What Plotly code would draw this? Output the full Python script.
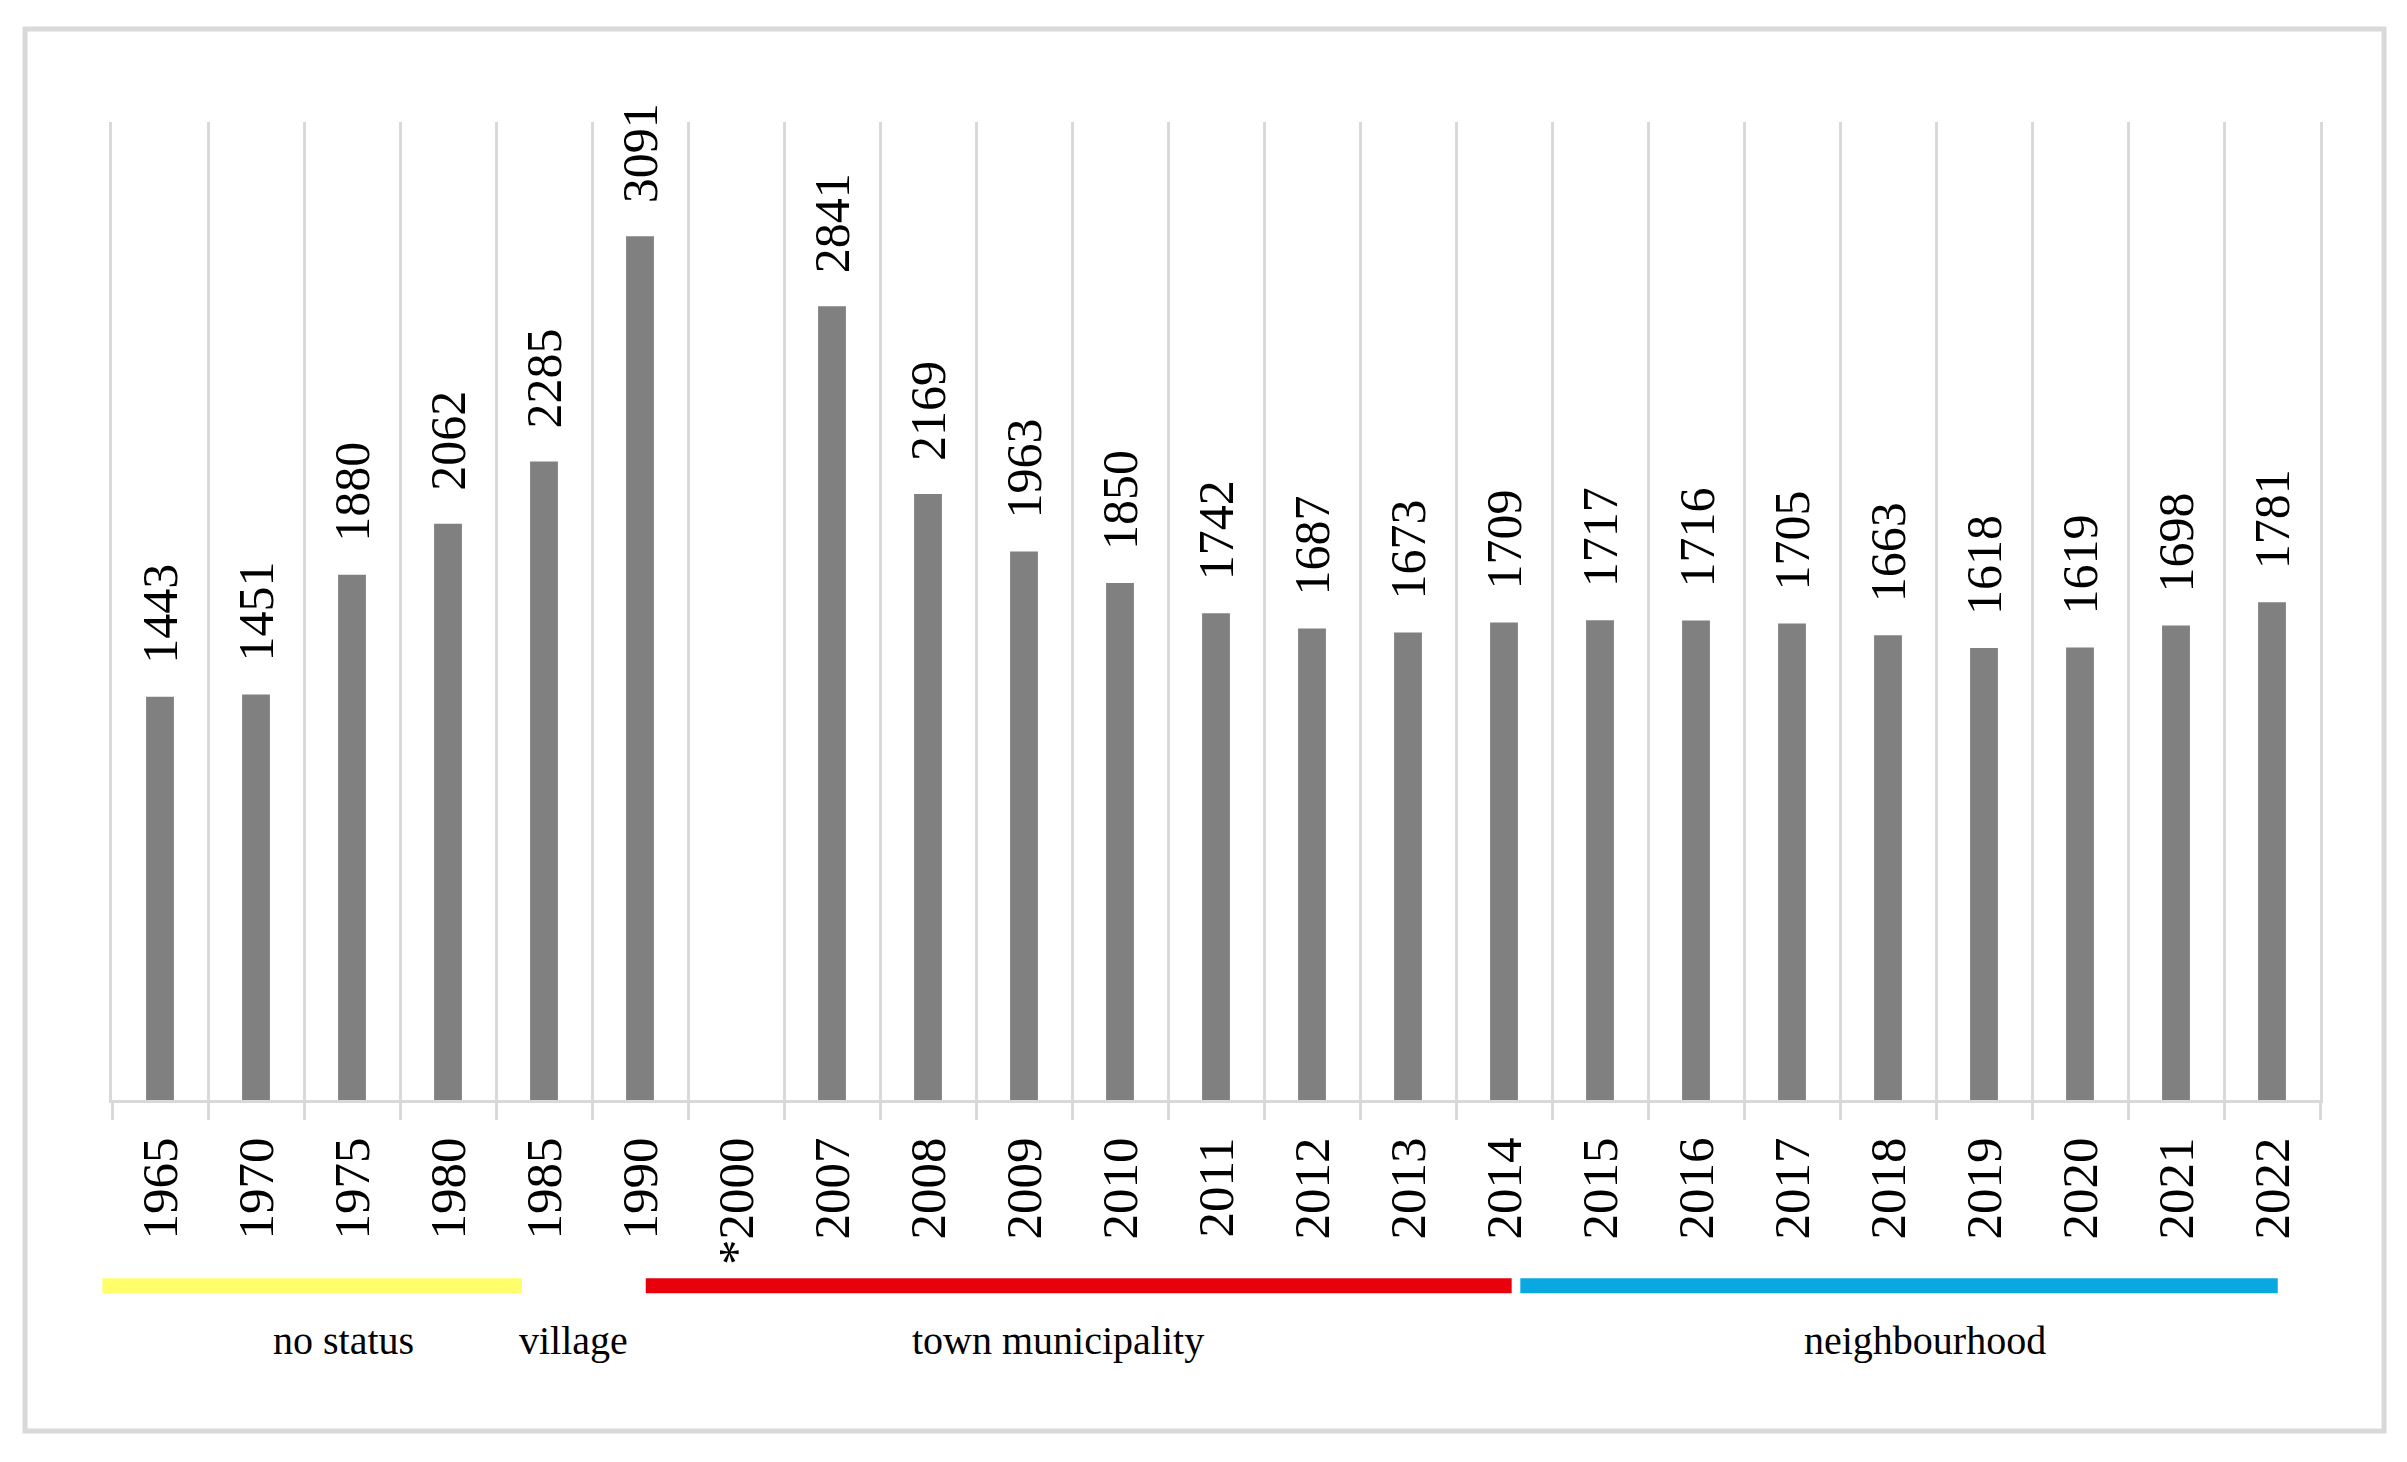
import plotly.graph_objects as go

# ---- data ----
years = ["1965", "1970", "1975", "1980", "1985", "1990", "*2000", "2007", "2008",
         "2009", "2010", "2011", "2012", "2013", "2014", "2015", "2016", "2017",
         "2018", "2019", "2020", "2021", "2022"]
population = [1443, 1451, 1880, 2062, 2285, 3091, None, 2841, 2169,
              1963, 1850, 1742, 1687, 1673, 1709, 1717, 1716, 1705,
              1663, 1618, 1619, 1698, 1781]

status_names = ["no status", "village", "town municipality", "neighbourhood"]
status_colors = ["#FFFF6B", None, "#E8000B", "#0AA8E0"]

# ---- layout helpers (positions in category-index units / paper units) ----
status_bar_span = [(-0.60, 3.77), None, (5.06, 14.08), (14.17, 22.06)]
status_label_x = [1.91, 4.31, 9.35, 18.39]

FONT = "Liberation Serif, Times New Roman, serif"
GRID = "#d9d9d9"
N = len(years)


def idx_to_paper(v):
    # category-index position -> paper fraction of the x domain (range -0.5..N-0.5)
    return (v + 0.5) / N


fig = go.Figure()
fig.add_trace(go.Bar(
    x=years, y=population,
    marker=dict(color="#808080", line=dict(width=0)),
    hoverinfo="x+y",
))

annotations = []
for i, val in enumerate(population):
    if val is None:
        continue
    annotations.append(dict(
        x=i, y=val, xref="x", yref="y", text=str(val), showarrow=False,
        textangle=-90, yanchor="bottom", xanchor="center", yshift=31,
        font=dict(family=FONT, size=50, color="#000000"),
    ))

shapes = []
# outer frame
shapes.append(dict(type="rect", xref="paper", yref="paper",
                   x0=-0.0394, x1=1.029, y0=-0.3384, y1=1.095,
                   line=dict(color=GRID, width=5), fillcolor="rgba(0,0,0,0)",
                   layer="below"))
bar_y, half = -0.190, 0.0077
for span, col in zip(status_bar_span, status_colors):
    if span is None:
        continue
    shapes.append(dict(type="rect", xref="paper", yref="paper",
                       x0=idx_to_paper(span[0]), x1=idx_to_paper(span[1]),
                       y0=bar_y - half, y1=bar_y + half,
                       line=dict(width=0), fillcolor=col))
for name, lx in zip(status_names, status_label_x):
    annotations.append(dict(
        x=lx, y=-0.2454, xref="x", yref="paper", text=name, showarrow=False,
        xanchor="center", yanchor="middle",
        font=dict(family=FONT, size=40, color="#000000"),
    ))

fig.update_layout(
    width=2407, height=1462,
    margin=dict(l=104, r=95, t=114, b=370),
    paper_bgcolor="white", plot_bgcolor="white",
    bargap=0.71,
    showlegend=False,
    shapes=shapes,
    annotations=annotations,
    font=dict(family=FONT, color="#000000"),
)
fig.update_xaxes(
    type="category",
    categoryorder="array", categoryarray=years,
    range=[-0.5, N - 0.5], autorange=False,
    tickson="boundaries",
    showgrid=True, gridcolor=GRID, gridwidth=3,
    showline=True, linecolor=GRID, linewidth=3,
    ticks="outside", ticklen=17, tickwidth=3, tickcolor=GRID,
    tickangle=-90, ticklabelstandoff=14,
    tickfont=dict(family=FONT, size=51, color="#000000"),
    zeroline=False,
)
fig.update_yaxes(
    range=[0, 3500], autorange=False, showgrid=False, showticklabels=False,
    zeroline=False, showline=True, mirror=True, linecolor=GRID, linewidth=3,
    ticks="",
)

fig.write_html("out.html")
